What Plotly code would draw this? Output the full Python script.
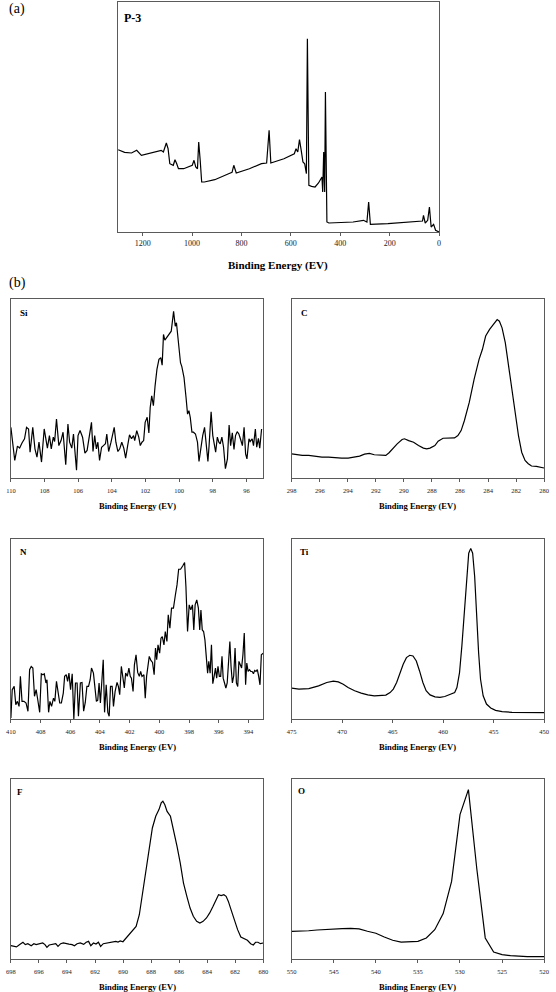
import plotly.graph_objects as go

# ---------------- data ----------------
# (a) survey spectrum
survey_ev = [1299, 1273, 1245, 1224, 1205, 1188, 1160, 1139, 1125, 1116,
             1104, 1097, 1090, 1076, 1069, 1062, 1055, 1034, 1013, 999,
             992, 985, 978, 973, 967, 961, 950, 908, 852, 838,
             831, 821, 768, 719, 698, 688, 681, 628, 586, 579,
             572, 565, 558, 551, 544, 537, 533, 527, 516, 502,
             488, 474, 471, 467, 463, 460, 454, 446, 348, 306,
             292, 285, 278, 207, 67, 63, 56, 46, 39, 32,
             22, 14, 0]
survey_int = [82.3, 79.7, 79, 81.7, 76.7, 77.7, 79, 81, 81.7, 80,
              89, 83.3, 68.3, 66.7, 72.3, 68.3, 63.3, 63.3, 65, 66.7,
              71.7, 65, 63.3, 90, 71.7, 50, 50, 52.3, 58.3, 59.7,
              66.7, 59, 63.3, 68.3, 69, 101.7, 69, 73.3, 78.3, 83.3,
              80, 92.3, 81.7, 70, 68.3, 58.3, 193.3, 46.7, 45.7, 45,
              49, 55, 40, 80, 40, 140, 10, 9, 10, 11.7,
              10, 30, 7.7, 8.3, 11, 16.7, 9, 11.7, 25, 5,
              7.7, 1.7, 0]

# Si 2p
si_ev = [110.00, 109.86, 109.77, 109.61, 109.48, 109.34, 109.19, 109.07, 108.95, 108.86,
         108.70, 108.57, 108.45, 108.33, 108.18, 108.02, 107.93, 107.83, 107.71, 107.60,
         107.48, 107.40, 107.29, 107.15, 107.02, 106.90, 106.74, 106.61, 106.51, 106.38,
         106.28, 106.20, 106.10, 106.01, 105.89, 105.74, 105.60, 105.47, 105.35, 105.21,
         105.12, 105.02, 104.92, 104.83, 104.73, 104.61, 104.50, 104.38, 104.30, 104.19,
         104.05, 103.95, 103.86, 103.76, 103.64, 103.53, 103.41, 103.29, 103.18, 103.06,
         102.95, 102.83, 102.71, 102.64, 102.52, 102.40, 102.31, 102.21, 102.11, 102.02,
         101.90, 101.80, 101.72, 101.63, 101.53, 101.43, 101.32, 101.20, 101.09, 101.01,
         100.93, 100.85, 100.74, 100.60, 100.47, 100.33, 100.23, 100.16, 100.04, 99.92,
         99.84, 99.71, 99.59, 99.50, 99.42, 99.34, 99.24, 99.15, 99.03, 98.91,
         98.82, 98.72, 98.60, 98.49, 98.39, 98.29, 98.22, 98.10, 98.00, 97.91,
         97.83, 97.73, 97.64, 97.56, 97.46, 97.36, 97.25, 97.13, 97.03, 96.94,
         96.84, 96.74, 96.65, 96.55, 96.45, 96.36, 96.24, 96.14, 96.05, 95.97,
         95.85, 95.78, 95.66, 95.58, 95.47, 95.39, 95.29, 95.21, 95.10]
si_int = [28.3, 18.1, 9.8, 17.8, 16.7, 19.6, 21.9, 28.3, 27.4, 14.4,
          28.3, 16.3, 11.7, 20.0, 8.9, 27.4, 21.9, 16.7, 23.7, 16.3,
          22.8, 20.4, 33.0, 18.1, 20.9, 25.6, 7.4, 30.2, 20.0, 16.7,
          24.6, 16.3, 4.3, 23.7, 26.5, 22.8, 13.9, 15.4, 23.7, 31.1,
          14.8, 23.7, 16.3, 20.0, 9.8, 17.2, 18.1, 19.1, 24.6, 14.8,
          20.0, 23.7, 28.3, 20.0, 14.8, 16.3, 20.0, 16.7, 11.1, 18.1,
          24.1, 21.9, 23.7, 20.9, 26.5, 22.8, 18.1, 20.0, 20.9, 31.1,
          33.9, 25.2, 39.4, 45.9, 40.4, 51.5, 60.7, 66.3, 67.2, 63.0,
          80.2, 77.0, 78.3, 80.2, 82.0, 93.1, 84.8, 86.7, 73.7, 64.4,
          62.2, 56.1, 45.0, 35.7, 37.6, 33.9, 25.6, 25.6, 24.6, 20.0,
          9.3, 16.3, 23.7, 28.3, 20.0, 9.3, 18.1, 37.0, 23.7, 18.1,
          14.4, 22.8, 20.0, 19.1, 22.8, 17.2, 5.2, 10.7, 29.6, 18.1,
          25.2, 15.9, 23.7, 25.9, 24.6, 21.9, 18.1, 28.3, 13.5, 10.7,
          21.9, 20.4, 21.9, 18.1, 27.4, 17.2, 22.2, 16.7, 27.4]

# C 1s
c_ev = [298.00, 297.72, 297.25, 296.79, 296.32, 295.85, 295.38, 294.92, 294.45, 293.98,
        293.51, 293.16, 292.81, 292.46, 292.11, 291.64, 291.29, 291.06, 290.83, 290.48,
        290.13, 289.96, 289.66, 289.31, 288.96, 288.61, 288.37, 288.14, 287.79, 287.56,
        287.21, 286.86, 286.39, 286.15, 285.92, 285.69, 285.34, 284.99, 284.64, 284.40,
        284.17, 283.89, 283.70, 283.51, 283.35, 283.19, 283.00, 282.77, 282.53, 282.30,
        282.07, 281.83, 281.60, 281.36, 281.13, 280.90, 280.55, 280.20, 280.01]
c_int = [13.5, 13.1, 12.6, 12.6, 12.0, 11.7, 11.7, 11.3, 11.1, 11.1,
         11.5, 12.2, 13.3, 13.7, 13.0, 12.6, 12.6, 14.1, 16.3, 19.1,
         21.5, 21.9, 20.9, 20.0, 18.1, 16.7, 16.3, 16.7, 18.1, 20.6,
         22.2, 22.2, 22.4, 23.7, 26.5, 32.0, 42.2, 55.2, 66.3, 71.9,
         79.3, 83.0, 84.8, 87.0, 88.5, 87.6, 83.9, 75.6, 62.6, 47.8,
         34.8, 23.7, 14.4, 9.8, 8.0, 6.7, 6.5, 6.1, 5.6]

# N 1s
n_ev = [410.00, 409.91, 409.78, 409.67, 409.56, 409.45, 409.36, 409.25, 409.12, 408.98,
        408.85, 408.74, 408.63, 408.52, 408.41, 408.30, 408.19, 408.06, 407.95, 407.84,
        407.75, 407.64, 407.57, 407.46, 407.37, 407.26, 407.13, 407.04, 406.93, 406.82,
        406.71, 406.60, 406.47, 406.38, 406.27, 406.18, 406.09, 405.98, 405.87, 405.76,
        405.65, 405.54, 405.45, 405.32, 405.21, 405.10, 404.99, 404.88, 404.77, 404.66,
        404.57, 404.44, 404.35, 404.24, 404.15, 404.06, 403.97, 403.86, 403.78, 403.69,
        403.58, 403.47, 403.38, 403.29, 403.18, 403.09, 402.98, 402.85, 402.76, 402.67,
        402.56, 402.45, 402.36, 402.27, 402.16, 402.05, 401.96, 401.88, 401.77, 401.68,
        401.57, 401.46, 401.35, 401.26, 401.17, 401.04, 400.95, 400.86, 400.77, 400.68,
        400.57, 400.46, 400.35, 400.26, 400.18, 400.09, 399.98, 399.89, 399.80, 399.69,
        399.60, 399.49, 399.40, 399.29, 399.18, 399.05, 398.92, 398.81, 398.70, 398.57,
        398.43, 398.30, 398.21, 398.10, 397.99, 397.88, 397.77, 397.68, 397.59, 397.48,
        397.37, 397.28, 397.20, 397.11, 397.02, 396.93, 396.84, 396.75, 396.67, 396.58,
        396.49, 396.40, 396.31, 396.22, 396.14, 396.05, 395.96, 395.87, 395.78, 395.70,
        395.61, 395.52, 395.43, 395.34, 395.25, 395.17, 395.08, 394.99, 394.90, 394.81,
        394.72, 394.64, 394.55, 394.46, 394.37, 394.28, 394.19, 394.11, 394.02, 393.93,
        393.84, 393.75, 393.66, 393.58, 393.49, 393.40, 393.31, 393.22, 393.13, 393.00]
n_int = [0.6, 16.3, 18.1, 7.9, 9.8, 7.0, 23.7, 9.8, 9.8, 8.9,
         4.3, 27.4, 29.2, 28.3, 12.6, 16.3, 10.7, 3.7, 25.1, 24.6,
         25.1, 20.0, 21.8, 3.7, 9.8, 7.0, 11.6, 9.8, 20.9, 14.4,
         8.9, 8.9, 14.4, 23.7, 24.6, 20.9, 25.5, 16.3, 25.1, 0.0,
         20.0, 20.0, 1.5, 20.0, 20.3, 4.3, 9.2, 18.1, 18.1, 21.8,
         28.3, 25.5, 17.2, 9.8, 10.4, 20.0, 8.9, 26.4, 32.9, 3.7,
         19.0, 3.7, 1.5, 18.1, 18.1, 7.0, 15.3, 20.3, 18.1, 13.5,
         29.2, 22.7, 17.2, 25.5, 23.7, 28.3, 23.7, 22.7, 15.3, 30.1,
         35.7, 25.9, 23.7, 26.4, 23.7, 24.6, 11.6, 23.7, 30.1, 34.8,
         32.5, 31.4, 24.6, 39.4, 32.9, 41.2, 36.6, 44.9, 45.8, 41.2,
         48.6, 43.1, 57.9, 50.5, 61.6, 61.6, 68.9, 74.5, 83.2, 83.2,
         85.0, 86.9, 73.6, 48.6, 63.4, 60.6, 63.4, 49.5, 63.4, 66.2,
         61.6, 49.5, 60.6, 49.5, 48.6, 44.0, 34.8, 25.5, 32.0, 25.5,
         41.2, 19.6, 23.7, 28.3, 22.7, 29.2, 23.7, 23.7, 34.8, 22.7,
         20.0, 17.2, 20.0, 31.1, 43.1, 29.2, 20.0, 24.0, 39.4, 20.0,
         18.1, 32.0, 29.6, 28.3, 35.7, 47.7, 19.0, 31.1, 26.4, 27.4,
         26.4, 26.4, 25.1, 27.0, 26.4, 27.4, 23.7, 19.0, 35.7, 36.6]

# Ti 2p
ti_ev = [475.00, 474.29, 473.31, 472.34, 471.53, 470.88, 470.39, 469.90, 469.42, 468.77,
         468.12, 467.47, 466.82, 466.17, 465.68, 465.26, 464.94, 464.61, 464.29, 463.96,
         463.64, 463.31, 462.99, 462.66, 462.34, 462.01, 461.69, 461.30, 460.81, 460.32,
         459.84, 459.35, 458.86, 458.64, 458.38, 458.15, 457.89, 457.66, 457.47, 457.27,
         457.08, 456.88, 456.69, 456.49, 456.30, 456.04, 455.71, 455.29, 454.81, 454.16,
         453.18, 451.88, 450.58, 450.00]
ti_int = [17.1, 16.6, 16.9, 18.4, 20.3, 21.0, 20.6, 19.3, 17.5, 15.7,
          14.4, 13.4, 12.9, 12.9, 13.3, 14.7, 16.6, 20.3, 25.8, 30.4,
          34.1, 35.4, 35.0, 32.2, 26.7, 20.3, 15.7, 13.4, 12.3, 12.0,
          12.5, 13.4, 14.7, 17.5, 25.8, 40.5, 60.8, 81.0, 92.1, 94.8,
          92.1, 79.2, 57.1, 36.8, 22.1, 12.9, 8.3, 6.1, 4.8, 4.1,
          3.7, 3.5, 3.5, 3.5]

# F 1s
f_ev = [698.00, 697.84, 697.60, 697.37, 697.14, 696.97, 696.79, 696.55, 696.36, 696.20,
        695.97, 695.73, 695.57, 695.43, 695.27, 695.03, 694.80, 694.64, 694.45, 694.26,
        694.10, 693.86, 693.63, 693.47, 693.28, 693.05, 692.81, 692.63, 692.46, 692.30,
        692.11, 691.93, 691.76, 691.60, 691.41, 691.18, 690.94, 690.71, 690.52, 690.36,
        690.20, 690.01, 689.78, 689.54, 689.31, 689.07, 688.84, 688.61, 688.37, 688.14,
        687.91, 687.67, 687.44, 687.28, 687.16, 687.02, 686.86, 686.62, 686.39, 686.15,
        685.92, 685.69, 685.45, 685.22, 684.99, 684.75, 684.52, 684.29, 684.05, 683.82,
        683.58, 683.35, 683.19, 683.00, 682.81, 682.65, 682.49, 682.30, 682.07, 681.83,
        681.60, 681.36, 681.13, 680.90, 680.71, 680.55, 680.38, 680.20, 680.01]
f_int = [7.4, 7.0, 6.7, 8.0, 9.3, 8.0, 8.5, 7.4, 8.5, 8.0,
         8.5, 8.9, 8.0, 6.5, 7.8, 8.0, 8.5, 7.0, 8.5, 8.9,
         8.5, 8.3, 8.0, 7.4, 8.5, 8.9, 8.1, 9.3, 9.8, 7.4,
         8.9, 8.3, 9.3, 7.0, 8.5, 8.9, 9.1, 9.3, 9.8, 9.4,
         10.0, 9.6, 11.7, 13.5, 15.4, 18.1, 24.6, 36.7, 49.6, 62.6,
         72.8, 79.3, 83.0, 86.7, 87.6, 85.7, 82.0, 79.3, 71.9, 62.6,
         53.3, 42.2, 34.8, 28.3, 23.7, 20.9, 20.0, 20.9, 22.8, 25.6,
         29.3, 33.0, 35.7, 35.2, 35.7, 34.8, 32.0, 27.4, 21.9, 16.3,
         12.2, 11.1, 10.4, 8.5, 7.8, 9.3, 9.3, 8.5, 8.9]

# O 1s
o_ev = [550, 549, 548, 547, 546, 545, 544, 543, 542, 541,
        540, 539, 538, 537, 536, 535, 534, 533, 532, 531,
        530, 529, 528, 527, 526, 525, 524, 523, 522, 521, 520]
o_int = [15.4, 15.4, 15.7, 16.1, 16.5, 16.7, 16.9, 17.0, 16.7, 15.4,
         14.3, 12.2, 10.4, 9.4, 9.4, 9.8, 11.7, 16.3, 25.2, 43.1,
         80.2, 94.1, 50.0, 11.7, 3.9, 2.4, 1.9, 1.5, 1.3, 1.3, 1.3]

panel_labels = ["P-3", "Si", "C", "N", "Ti", "F", "O"]
x_title = "Binding Energy (EV)"

# ---------------- layout helpers ----------------
W, H = 556, 992
FONT = "Liberation Serif"
BOX = "#5a5a5a"


def fx(p):
    return p / W


def fy(p):
    return 1 - p / H


# (x, y, xrange, yrange, ticks, xdom px, ydom px, label px pos, label size,
#  tick size, title size, title y px, tick label standoff)
panels = [
    (survey_ev, survey_int, [1300, 0], [0, 230], list(range(0, 1201, 200)),
     (115, 442), (2, 232), (130, 18), 12, 8, 11, 266, 0),
    (si_ev, si_int, [110, 95], [0, 100], list(range(96, 111, 2)),
     (6, 263), (299, 478), (19, 313), 9, 6.5, 8.5, 506, 3),
    (c_ev, c_int, [298, 280], [0, 100], list(range(280, 299, 2)),
     (292, 549), (299, 478), (305, 313), 9, 6.5, 8.5, 506, 3),
    (n_ev, n_int, [410, 393], [0, 100], list(range(394, 411, 2)),
     (6, 263), (539, 719), (19, 552), 9, 6.5, 8.5, 747, 3),
    (ti_ev, ti_int, [475, 450], [0, 100], list(range(450, 476, 5)),
     (292, 549), (539, 719), (305, 552), 9, 6.5, 8.5, 747, 3),
    (f_ev, f_int, [698, 680], [0, 100], list(range(680, 699, 2)),
     (6, 263), (779, 959), (15, 792), 9, 6.5, 8.5, 987, 3),
    (o_ev, o_int, [550, 520], [0, 100], list(range(520, 551, 5)),
     (292, 549), (779, 959), (302, 791), 9, 6.5, 8.5, 987, 3),
]

fig = go.Figure()
annotations = []
layout_axes = {}

for i, (xs, ys, xr, yr, tv, xd, yd, lp, lsz, tsz, ttsz, tty, tls) in enumerate(panels):
    assert len(xs) == len(ys), (i, len(xs), len(ys))
    n = "" if i == 0 else str(i + 1)
    fig.add_trace(go.Scatter(x=xs, y=ys, mode="lines",
                             line=dict(color="black", width=1.2),
                             xaxis="x" + n, yaxis="y" + n,
                             showlegend=False, hoverinfo="skip"))
    layout_axes["xaxis" + n] = dict(
        domain=[fx(xd[0]), fx(xd[1])], range=xr, anchor="y" + n,
        tickmode="array", tickvals=tv, ticktext=[str(v) for v in tv],
        ticks="outside", ticklen=3, tickwidth=1, tickcolor=BOX,
        ticklabelstandoff=tls,
        showline=True, linecolor=BOX, linewidth=1, mirror=True,
        showgrid=False, zeroline=False,
        tickfont=dict(family=FONT, size=tsz, color="#222222"),
    )
    layout_axes["yaxis" + n] = dict(
        domain=[fy(yd[1]), fy(yd[0])], range=yr, anchor="x" + n,
        showticklabels=False, ticks="", showline=True, linecolor=BOX,
        linewidth=1, mirror=True, showgrid=False, zeroline=False,
    )
    annotations.append(dict(
        text="<b>%s</b>" % panel_labels[i], x=fx(lp[0]), y=fy(lp[1]),
        xref="paper", yref="paper", xanchor="center", yanchor="middle",
        showarrow=False, font=dict(family=FONT, size=lsz, color="black")))
    annotations.append(dict(
        text="<b>%s</b>" % x_title, x=fx((xd[0] + xd[1]) / 2), y=fy(tty),
        xref="paper", yref="paper", xanchor="center", yanchor="middle",
        showarrow=False, font=dict(family=FONT, size=ttsz, color="black")))

annotations.append(dict(text="(a)", x=fx(2), y=fy(9), xref="paper", yref="paper",
                        xanchor="left", yanchor="middle", showarrow=False,
                        font=dict(family=FONT, size=14, color="black")))
annotations.append(dict(text="(b)", x=fx(2), y=fy(283), xref="paper", yref="paper",
                        xanchor="left", yanchor="middle", showarrow=False,
                        font=dict(family=FONT, size=14, color="black")))

fig.update_layout(
    width=W, height=H,
    margin=dict(l=0, r=0, t=0, b=0),
    paper_bgcolor="white", plot_bgcolor="white",
    annotations=annotations,
    **layout_axes,
)

fig.write_html(
    "out.html",
    config={"displayModeBar": False, "staticPlot": True},
    post_script="document.body.style.margin='0px';document.body.style.overflow='hidden';",
)
